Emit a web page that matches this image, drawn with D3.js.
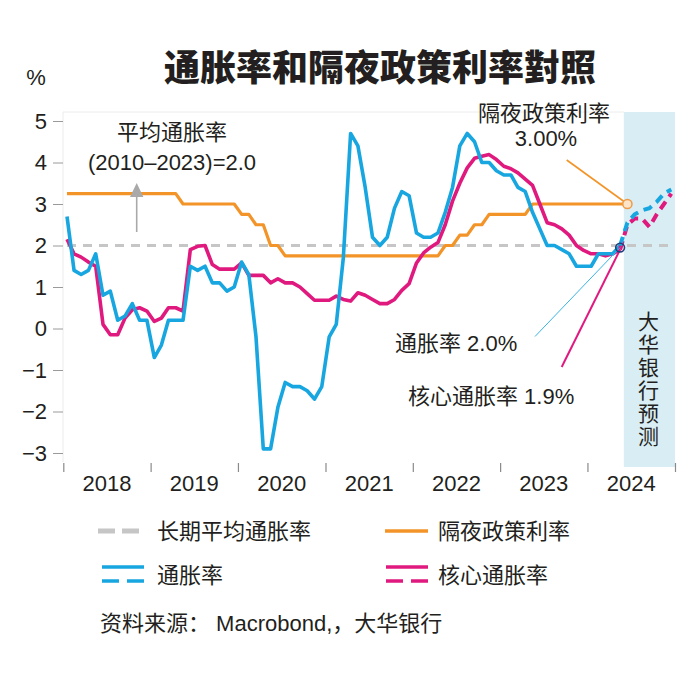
<!DOCTYPE html>
<html lang="zh">
<head>
<meta charset="UTF-8">
<title>通胀率和隔夜政策利率對照</title>
<script src="https://d3js.org/d3.v7.min.js"></script>
<style>
  body { margin: 0; background: #fff; }
  svg { display: block; }
  text {
    font-family: "Liberation Sans", Arial, "Noto Sans CJK SC", sans-serif;
    fill: #231f20;
  }
</style>
</head>
<body>
<svg id="chart" width="690" height="690"></svg>
<script>
// monthly data, Jan 2018 .. May 2024
const cpi = [
  2.7, 1.4, 1.3, 1.4, 1.8, 0.8, 0.9, 0.2, 0.3, 0.6, 0.2, 0.2,
  -0.7, -0.4, 0.2, 0.2, 0.2, 1.5, 1.4, 1.5, 1.1, 1.1, 0.9, 1.0,
  1.6, 1.3, -0.2, -2.9, -2.9, -1.9, -1.3, -1.4, -1.4, -1.5, -1.7, -1.4,
  -0.2, 0.1, 1.7, 4.7, 4.4, 3.4, 2.2, 2.0, 2.2, 2.9, 3.3, 3.2,
  2.3, 2.2, 2.2, 2.3, 2.8, 3.4, 4.4, 4.7, 4.5, 4.0, 4.0, 3.8,
  3.7, 3.7, 3.4, 3.3, 2.8, 2.4, 2.0, 2.0, 1.9, 1.8, 1.5, 1.5,
  1.5, 1.8, 1.8, 1.8, 2.0
];
const core = [
  2.15, 1.8, 1.72, 1.6, 1.5, 0.1, -0.15, -0.15, 0.25, 0.45, 0.5, 0.42,
  0.17, 0.25, 0.5, 0.5, 0.42, 1.9, 1.98, 2.0, 1.54, 1.43, 1.43, 1.43,
  1.58, 1.28, 1.28, 1.28, 1.1, 1.2, 1.1, 1.1, 1.0, 0.84, 0.68, 0.68,
  0.68, 0.78, 0.7, 0.66, 0.86, 0.8, 0.7, 0.6, 0.6, 0.7, 0.92, 1.08,
  1.58, 1.82, 1.96, 2.07, 2.5, 3.07, 3.5, 3.87, 4.1, 4.15, 4.19, 4.07,
  3.91, 3.85, 3.75, 3.6, 3.45, 3.0, 2.55, 2.5, 2.4, 2.25, 2.0, 1.88,
  1.8, 1.8, 1.75, 1.8, 1.9
];
// overnight policy rate, Jan 2018 .. Jun 2024
const opr = [
  3.25, 3.25, 3.25, 3.25, 3.25, 3.25, 3.25, 3.25, 3.25, 3.25, 3.25, 3.25,
  3.25, 3.25, 3.25, 3.25, 3.0, 3.0, 3.0, 3.0, 3.0, 3.0, 3.0, 3.0,
  2.75, 2.75, 2.5, 2.5, 2.0, 2.0, 1.75, 1.75, 1.75, 1.75, 1.75, 1.75,
  1.75, 1.75, 1.75, 1.75, 1.75, 1.75, 1.75, 1.75, 1.75, 1.75, 1.75, 1.75,
  1.75, 1.75, 1.75, 1.75, 2.0, 2.0, 2.25, 2.25, 2.5, 2.5, 2.75, 2.75,
  2.75, 2.75, 2.75, 2.75, 3.0, 3.0, 3.0, 3.0, 3.0, 3.0, 3.0, 3.0,
  3.0, 3.0, 3.0, 3.0, 3.0, 3.0
];
// UOB forecast, Jun .. Dec 2024
const cpiForecast = [2.55, 2.75, 2.85, 2.9, 3.05, 3.25, 3.35];
const coreForecast = [2.5, 2.65, 2.65, 2.45, 2.75, 3.0, 3.25];

const longAvg = 2.0;
const years = [2018, 2019, 2020, 2021, 2022, 2023, 2024];
const yTicks = [-3, -2, -1, 0, 1, 2, 3, 4, 5];

const months = d3.timeMonth.range(new Date(2018, 0, 1), new Date(2025, 0, 1));

const blue = "#17a6e0", pink = "#e0197f", orange = "#f39428", grey = "#c6c6c6";

const svg = d3.select("#chart");

const x = d3.scaleTime()
  .domain([new Date(2018, 0, 1), new Date(2025, 0, 1)])
  .range([63.3, 675]);
const y = d3.scaleLinear().domain([-3, 5]).range([453, 121]);

// centre of a month
const xm = d => (x(d) + x(d3.timeMonth.offset(d, 1))) / 2;

// forecast shading
const fcStart = new Date(2024, 5, 1);
svg.append("rect")
  .attr("x", x(fcStart)).attr("y", 112)
  .attr("width", x(new Date(2025, 0, 1)) - x(fcStart))
  .attr("height", 467 - 112)
  .attr("fill", "#d8edf4");

// faint frame
svg.append("line").attr("x1", 63).attr("x2", x(fcStart)).attr("y1", 112).attr("y2", 112)
  .attr("stroke", "#ececec");
svg.append("line").attr("x1", 63).attr("x2", 63).attr("y1", 112).attr("y2", 462)
  .attr("stroke", "#ececec");

// axes
const yAxis = svg.append("g")
  .attr("transform", "translate(63,0)")
  .call(d3.axisLeft(y).tickValues(yTicks).tickSize(10).tickPadding(6));
yAxis.select(".domain").remove();
yAxis.selectAll("line").attr("stroke", "#9a9a9a");
yAxis.selectAll("text").attr("font-size", 22)
  .attr("font-family", "Liberation Sans, Arial, sans-serif").attr("fill", "#231f20");

const xAxis = svg.append("g")
  .attr("transform", "translate(0,463)")
  .call(d3.axisBottom(x).ticks(d3.timeYear.every(1)).tickSize(9).tickFormat(""));
xAxis.select(".domain").remove();
xAxis.selectAll("line").attr("stroke", "#8a8a8a").attr("stroke-width", 1.2);

svg.append("g").selectAll("text")
  .data(years)
  .join("text")
  .attr("x", d => (x(new Date(d, 0, 1)) + x(new Date(d + 1, 0, 1))) / 2)
  .attr("y", 491)
  .attr("text-anchor", "middle")
  .attr("font-size", 22)
  .text(d => d);

// long-run average
svg.append("line")
  .attr("x1", xm(months[0])).attr("x2", xm(months[months.length - 1]))
  .attr("y1", y(longAvg)).attr("y2", y(longAvg))
  .attr("stroke", grey).attr("stroke-width", 3).attr("stroke-dasharray", "9,7");

const line = d3.line()
  .x((d, i) => xm(months[i]))
  .y(d => y(d));

svg.append("path").datum(opr)
  .attr("d", line).attr("fill", "none")
  .attr("stroke", orange).attr("stroke-width", 3.2).attr("stroke-linejoin", "round");

svg.append("path").datum(core)
  .attr("d", line).attr("fill", "none")
  .attr("stroke", pink).attr("stroke-width", 3.6).attr("stroke-linejoin", "round");

svg.append("path").datum(cpi)
  .attr("d", line).attr("fill", "none")
  .attr("stroke", blue).attr("stroke-width", 3.6).attr("stroke-linejoin", "round");

// forecasts start from the last actual month
const last = cpi.length - 1;
const fcLine = d3.line()
  .x((d, i) => xm(months[last + i]))
  .y(d => y(d));

svg.append("path").datum([core[last]].concat(coreForecast))
  .attr("d", fcLine).attr("fill", "none")
  .attr("stroke", pink).attr("stroke-width", 4).attr("stroke-dasharray", "9,6");

svg.append("path").datum([cpi[last]].concat(cpiForecast))
  .attr("d", fcLine).attr("fill", "none")
  .attr("stroke", blue).attr("stroke-width", 4).attr("stroke-dasharray", "9,6");

// callouts
const endX = xm(months[last]);
const endY = y((cpi[last] + core[last]) / 2);
const oprX = xm(months[opr.length - 1]), oprY = y(opr[opr.length - 1]);

svg.append("line").attr("x1", 566.7).attr("y1", 160).attr("x2", oprX).attr("y2", oprY)
  .attr("stroke", orange).attr("stroke-width", 1.6);
svg.append("line").attr("x1", 535).attr("y1", 336.5).attr("x2", endX).attr("y2", endY)
  .attr("stroke", "#3ab4e6").attr("stroke-width", 1);
svg.append("line").attr("x1", 561.7).attr("y1", 367).attr("x2", endX).attr("y2", endY + 2)
  .attr("stroke", pink).attr("stroke-width", 2);

svg.append("circle").attr("cx", oprX).attr("cy", oprY).attr("r", 4.6)
  .attr("fill", "#fbe4c8").attr("stroke", "#ee9a48").attr("stroke-width", 1.5);
svg.append("circle").attr("cx", endX).attr("cy", endY).attr("r", 4.4)
  .attr("fill", "none").attr("stroke", "#213e7c").attr("stroke-width", 1.6);

// average arrow
svg.append("line").attr("x1", 136.7).attr("x2", 136.7).attr("y1", 232).attr("y2", 192)
  .attr("stroke", "#a9a9a9").attr("stroke-width", 1.6);
svg.append("path").attr("d", "M130,197L136.7,183L143.4,197Z").attr("fill", "#a9a9a9");

// annotations
const note = (t, xx, yy, anchor, size) => svg.append("text")
  .attr("x", xx).attr("y", yy)
  .attr("text-anchor", anchor || "middle")
  .attr("dominant-baseline", "central")
  .attr("font-size", size || 22)
  .text(t);

note("平均通胀率", 172, 132);
note("(2010–2023)=2.0", 172, 162);
note("隔夜政策利率", 544, 113);
note("3.00%", 546, 138);
note("通胀率 2.0%", 395, 343, "start");
note("核心通胀率 1.9%", 408, 396, "start");

const vText = "大华银行预测".split("");
svg.append("g").selectAll("text")
  .data(vText)
  .join("text")
  .attr("x", 648.5)
  .attr("y", (d, i) => 321.5 + i * 23)
  .attr("text-anchor", "middle")
  .attr("dominant-baseline", "central")
  .attr("font-size", 21)
  .text(d => d);

// title
svg.append("text")
  .attr("x", 380).attr("y", 68)
  .attr("text-anchor", "middle")
  .attr("dominant-baseline", "central")
  .attr("font-family", "Noto Sans CJK SC, sans-serif")
  .attr("font-weight", 900)
  .attr("font-size", 36)
  .text("通胀率和隔夜政策利率對照");
note("%", 36, 77, "middle", 22);

// legend
const lg = svg.append("g");
lg.append("line").attr("x1", 98).attr("x2", 140).attr("y1", 531).attr("y2", 531)
  .attr("stroke", grey).attr("stroke-width", 5).attr("stroke-dasharray", "17,7");
lg.append("line").attr("x1", 385).attr("x2", 428).attr("y1", 531).attr("y2", 531)
  .attr("stroke", orange).attr("stroke-width", 3.5);
[[102, blue], [386, pink]].forEach(([lx, c]) => {
  lg.append("line").attr("x1", lx).attr("x2", lx + 42).attr("y1", 567).attr("y2", 567)
    .attr("stroke", c).attr("stroke-width", 3.5);
  lg.append("line").attr("x1", lx).attr("x2", lx + 42).attr("y1", 581).attr("y2", 581)
    .attr("stroke", c).attr("stroke-width", 3.5).attr("stroke-dasharray", "17,8");
});
note("长期平均通胀率", 157, 531, "start");
note("隔夜政策利率", 438, 531, "start");
note("通胀率", 157, 575, "start");
note("核心通胀率", 438, 575, "start");
note("资料来源： Macrobond,，大华银行", 100, 623, "start");
</script>
</body>
</html>
